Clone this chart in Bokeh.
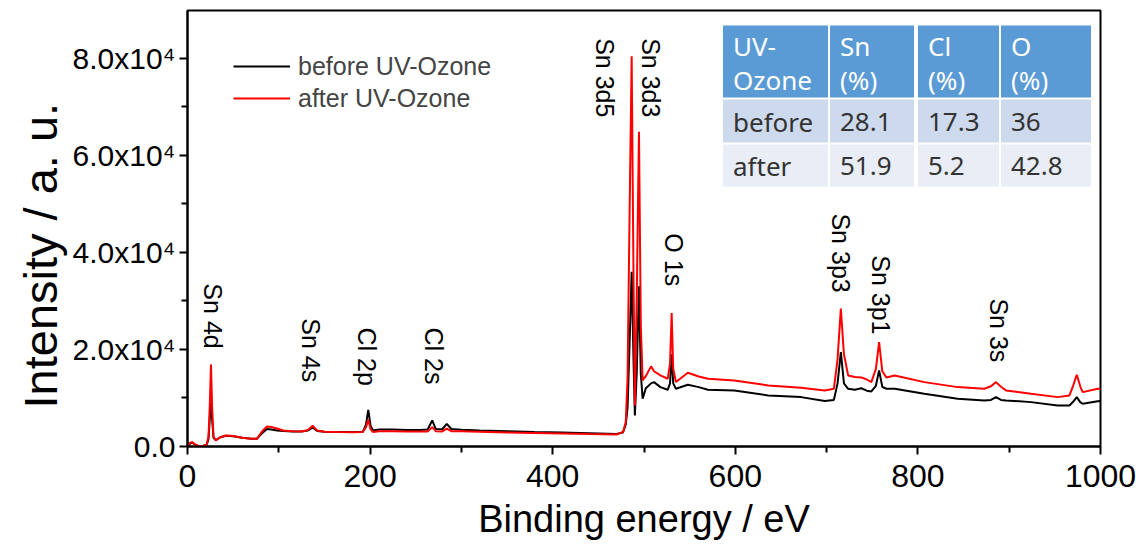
import math

from bokeh.core.properties import value
from bokeh.embed import file_html
from bokeh.models import (BoxAnnotation, ColumnDataSource, FixedTicker, Label,
                          Legend, LegendItem, Range1d, Title)
from bokeh.plotting import figure
from bokeh.resources import INLINE

# XPS survey spectra (binding energy in eV, intensity in counts)
energy = [0, 3, 5, 8, 12, 17, 21, 23, 24.5, 25.7, 27, 28.5, 31, 36, 42, 50, 60, 70, 76,
          82, 87, 92, 98, 105, 115, 125, 132, 137, 142, 150, 165, 180, 192, 195.5, 198,
          200.5, 203, 210, 225, 240, 255, 263, 268, 272, 279, 284, 289, 300, 320, 350,
          380, 410, 440, 470, 477, 480, 482, 484, 486.5, 488.5, 490, 492, 494.5, 496.5,
          498.5, 502, 507.7, 511, 518, 526, 528.5, 530.3, 532, 535, 548, 560, 570, 599,
          636, 672, 698, 708, 712, 715.6, 719, 723.6, 731, 738, 744, 749, 754, 757.5,
          761, 765.5, 774.6, 807, 843.5, 872.7, 880, 885.5, 891, 896.5, 924, 953, 966,
          970, 974, 978, 980.5, 997, 1000]

before_uv = [0, 600, 800, 400, 100, 100, 400, 1500, 6000, 9000, 5500, 1800, 1300, 1900,
             2200, 2100, 1800, 1600, 1600, 2800, 3600, 3500, 3300, 3200, 3100, 3100, 3300,
             3900, 3200, 3050, 3000, 3000, 3000, 4500, 7560, 4300, 3300, 3500, 3500, 3400,
             3400, 3500, 5360, 3600, 3550, 4670, 3600, 3450, 3300, 3150, 3000, 2900, 2750,
             2600, 2900, 4500, 8000, 20000, 36000, 18000, 6400, 15000, 33000, 15000, 9830,
             12000, 13000, 13260, 12230, 11680, 13000, 19000, 13000, 11890, 12720, 12230,
             11680, 11550, 10520, 10170, 9350, 9600, 13000, 19450, 13000, 11890, 11700,
             12000, 11500, 11340, 12500, 15670, 12300, 11890, 11890, 10860, 9830, 9490,
             9600, 10170, 9600, 9490, 9140, 8450, 8450, 9200, 10170, 9100, 8800, 9320, 9350]

after_uv = [0, 800, 900, 500, 100, 100, 400, 2000, 9000, 16900, 8000, 2000, 1250, 1900,
            2270, 2150, 1800, 1600, 1580, 3200, 4120, 4000, 3700, 3300, 3150, 3100, 3400,
            4260, 3300, 3050, 3000, 2960, 3000, 4000, 5500, 3600, 3000, 3160, 3150, 3100,
            3100, 3100, 3990, 3150, 3100, 3700, 3150, 3150, 3050, 2900, 2800, 2700, 2550,
            2470, 3000, 5000, 14000, 45000, 80400, 35000, 8450, 30000, 64800, 25000, 13600,
            14500, 16500, 15500, 14640, 13950, 17000, 27500, 16000, 13300, 15190, 14430,
            13950, 13610, 12580, 12100, 11550, 11900, 18000, 28390, 19000, 14640, 14300,
            14230, 13800, 13260, 16000, 21510, 15500, 14230, 14640, 13260, 12230, 11890,
            12400, 13260, 12300, 11550, 10860, 10170, 10520, 12500, 14780, 12300, 11200,
            11890, 11900]

assert len(energy) == len(before_uv) == len(after_uv)

# Core-level assignments: label, energy where the label sits, top of the label
peak_names = ["Sn 4d", "Sn 4s", "Cl 2p", "Cl 2s", "Sn 3d5", "Sn 3d3", "O 1s",
              "Sn 3p3", "Sn 3p1", "Sn 3s"]
peak_label_x = [28, 135, 196.5, 270, 457, 507.5, 533, 716, 759.5, 889]
peak_label_top = [33600, 26400, 24500, 24500, 84100, 84100, 43900, 48000, 39400, 30500]

# Surface composition table
table_header = [["UV-", "Ozone"], ["Sn", "(%)"], ["Cl", "(%)"], ["O", "(%)"]]
table_rows = [["before", "28.1", "17.3", "36"],
              ["after", "51.9", "5.2", "42.8"]]

x_ticks = [0, 200, 400, 600, 800, 1000]
x_minor = [100, 300, 500, 700, 900]
y_ticks = [0, 20000, 40000, 60000, 80000]
y_minor = [10000, 30000, 50000, 70000]
y_tick_labels = ["0.0", "2.0x10\u2074", "4.0x10\u2074", "6.0x10\u2074", "8.0x10\u2074"]

FONT = "Liberation Sans"

p = figure(frame_width=913, frame_height=436,
           min_border_left=187, min_border_right=36, min_border_top=10,
           min_border_bottom=108,
           x_range=Range1d(0, 1000), y_range=Range1d(0, 89800),
           output_backend="svg", toolbar_location=None)

p.xgrid.visible = False
p.ygrid.visible = False
p.outline_line_color = "black"
p.outline_line_width = 2
p.outline_line_alpha = 1.0
p.background_fill_color = "white"
p.border_fill_color = "white"

p.xaxis.ticker = FixedTicker(ticks=x_ticks, minor_ticks=x_minor)
p.yaxis.ticker = FixedTicker(ticks=y_ticks, minor_ticks=y_minor)
p.yaxis.major_label_overrides = {t: s for t, s in zip(y_ticks, y_tick_labels)}

for ax in (p.xaxis[0], p.yaxis[0]):
    ax.axis_line_width = 2
    ax.major_tick_line_width = 2
    ax.minor_tick_line_width = 2
    ax.major_tick_in = 0
    ax.major_tick_out = 8
    ax.minor_tick_in = 0
    ax.minor_tick_out = 6
    ax.major_label_text_font = FONT
    ax.axis_label_text_font = FONT
    ax.axis_label_text_font_style = "normal"
    ax.major_label_text_color = "black"
    ax.axis_label_text_color = "black"

p.xaxis.axis_label = "Binding energy / eV"
p.xaxis.axis_label_text_font_size = "38px"
p.xaxis.major_label_text_font_size = "32px"
p.xaxis.major_label_standoff = 10
p.xaxis.axis_label_standoff = 8

p.yaxis.major_label_text_font_size = "30px"
p.yaxis.major_label_standoff = 4

# Vertical axis title, placed in the left panel beyond the tick labels
p.add_layout(Title(text="Intensity / a. u.", align="left", offset=38,
                   text_font=FONT, text_font_size="47px", text_font_style="normal",
                   text_color="black", standoff=6), "left")

src = ColumnDataSource(dict(e=energy, before=before_uv, after=after_uv))
r_before = p.line("e", "before", source=src, line_color="black", line_width=2)
r_after = p.line("e", "after", source=src, line_color="#ff0000", line_width=2)

legend = Legend(items=[LegendItem(label="before UV-Ozone", renderers=[r_before]),
                       LegendItem(label="after UV-Ozone", renderers=[r_after])],
                location=(46, 332), orientation="vertical",
                glyph_width=57, glyph_height=32, label_height=32, label_standoff=8,
                spacing=0, padding=0, margin=0,
                label_text_font=FONT, label_text_font_size="25px",
                border_line_alpha=0, background_fill_alpha=0)
p.add_layout(legend)

peak_src = ColumnDataSource(dict(x=peak_label_x, y=peak_label_top, text=peak_names))
p.text(x="x", y="y", text="text", source=peak_src, angle=-math.pi / 2,
       text_align="left", text_baseline="middle", text_color="black",
       text_font=value(FONT), text_font_size="25px")

# Composition table, laid out in frame pixels (origin at the frame's bottom-left)
col_edges = [(535.5, 640.5), (642.5, 726.5), (730.5, 811.5), (813.5, 903.5)]
head_box = (349, 421)
row_boxes = [(304, 347), (260, 302)]
row_fills = ["#cdd9ec", "#e8edf6"]
TABLE_FONT = "Noto Sans"

for left, right in col_edges:
    p.add_layout(BoxAnnotation(left=left, right=right, bottom=head_box[0], top=head_box[1],
                               left_units="screen", right_units="screen",
                               bottom_units="screen", top_units="screen",
                               fill_color="#5b9bd5", fill_alpha=1, line_alpha=0))
    for (bottom, top), fill in zip(row_boxes, row_fills):
        p.add_layout(BoxAnnotation(left=left, right=right, bottom=bottom, top=top,
                                   left_units="screen", right_units="screen",
                                   bottom_units="screen", top_units="screen",
                                   fill_color=fill, fill_alpha=1, line_alpha=0))

for (left, _), lines in zip(col_edges, table_header):
    for line, yc in zip(lines, (401, 367)):
        p.add_layout(Label(x=left + 10, y=yc, x_units="screen", y_units="screen",
                           text=line, text_color="white", text_font=TABLE_FONT,
                           text_font_size="26px", text_baseline="middle",
                           text_align="left"))

for row, yc in zip(table_rows, (325, 281)):
    for (left, _), cell in zip(col_edges, row):
        p.add_layout(Label(x=left + 10, y=yc, x_units="screen", y_units="screen",
                           text=cell, text_color="#333333", text_font=TABLE_FONT,
                           text_font_size="26px", text_baseline="middle",
                           text_align="left"))

open("out.html", "w").write(file_html(p, INLINE))
